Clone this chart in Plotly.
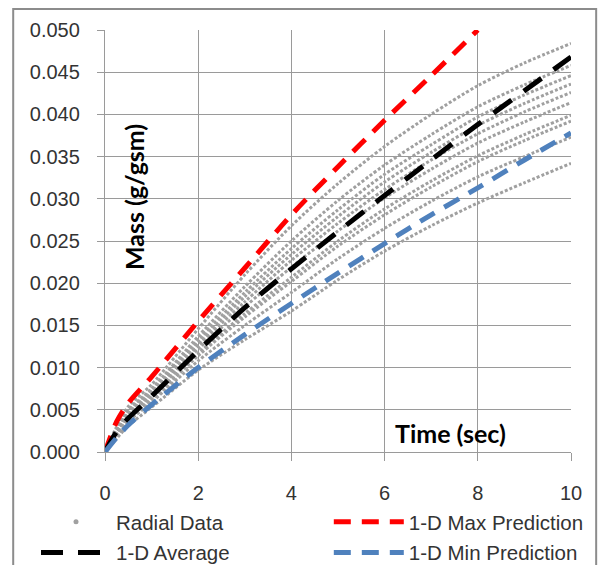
import plotly.graph_objects as go

# ---- data ----
time = [0, 0.25, 0.5, 1, 2, 3, 4, 5, 6, 7, 8, 9, 10]

radial_01 = [0, 0.0030, 0.0054, 0.0080, 0.0146, 0.0210, 0.0268, 0.0318, 0.0362, 0.0400, 0.0434, 0.0461, 0.0484]
radial_02 = [0, 0.0028, 0.0050, 0.0075, 0.0137, 0.0196, 0.0250, 0.0298, 0.0340, 0.0376, 0.0409, 0.0435, 0.0458]
radial_03 = [0, 0.0026, 0.0048, 0.0073, 0.0133, 0.0189, 0.0241, 0.0287, 0.0329, 0.0364, 0.0397, 0.0423, 0.0446]
radial_04 = [0, 0.0025, 0.0046, 0.0071, 0.0129, 0.0184, 0.0234, 0.0279, 0.0320, 0.0355, 0.0387, 0.0413, 0.0436]
radial_05 = [0, 0.0024, 0.0045, 0.0069, 0.0126, 0.0178, 0.0227, 0.0271, 0.0311, 0.0346, 0.0377, 0.0403, 0.0426]
radial_06 = [0, 0.0023, 0.0043, 0.0067, 0.0122, 0.0172, 0.0219, 0.0262, 0.0301, 0.0335, 0.0366, 0.0391, 0.0414]
radial_07 = [0, 0.0022, 0.0040, 0.0064, 0.0117, 0.0164, 0.0207, 0.0250, 0.0288, 0.0321, 0.0351, 0.0376, 0.0399]
radial_08 = [0, 0.0021, 0.0039, 0.0062, 0.0114, 0.0160, 0.0202, 0.0244, 0.0281, 0.0314, 0.0344, 0.0369, 0.0392]
radial_09 = [0, 0.0019, 0.0036, 0.0059, 0.0108, 0.0150, 0.0189, 0.0229, 0.0265, 0.0297, 0.0326, 0.0350, 0.0373]
radial_10 = [0, 0.0016, 0.0031, 0.0053, 0.0097, 0.0133, 0.0167, 0.0204, 0.0238, 0.0268, 0.0295, 0.0319, 0.0342]
radial_runs = [radial_01, radial_02, radial_03, radial_04, radial_05,
               radial_06, radial_07, radial_08, radial_09, radial_10]

avg_1d = [0, 0.0024, 0.0040, 0.0066, 0.0120, 0.0171, 0.0217, 0.0261, 0.0304, 0.0346, 0.0388, 0.0428, 0.0468]
max_pred = [0, 0.0036, 0.0058, 0.0089, 0.0155, 0.0218, 0.0281, 0.0338, 0.0393, 0.0446, 0.0500, None, None]
min_pred = [0, 0.0017, 0.0032, 0.0056, 0.0100, 0.0139, 0.0176, 0.0212, 0.0247, 0.0281, 0.0313, 0.0346, 0.0378]

x_ticks = [0, 2, 4, 6, 8, 10]
y_ticks = [0.000, 0.005, 0.010, 0.015, 0.020, 0.025, 0.030, 0.035, 0.040, 0.045, 0.050]

GRAY = "#a0a0a0"
RED = "#ff0000"
BLUE = "#4f81bd"
GRID = "#9a9a9a"
TXT = "#333333"

fig = go.Figure()

for run in radial_runs:
    fig.add_trace(go.Scatter(
        x=time, y=run, mode="lines", showlegend=False, hoverinfo="skip",
        line=dict(color=GRAY, width=3, dash="3px,2px", shape="spline", smoothing=0.8),
    ))

# legend-only entry for the radial dots
fig.add_trace(go.Scatter(
    x=[None], y=[None], mode="markers", name="Radial Data",
    legend="legend", legendgroup="g1",
    marker=dict(color=GRAY, size=5),
))

fig.add_trace(go.Scatter(
    x=time, y=max_pred, mode="lines", name="1-D Max Prediction",
    legend="legend2", legendgroup="g3",
    line=dict(color=RED, width=5, dash="17px,11px", shape="spline", smoothing=0.8),
))
fig.add_trace(go.Scatter(
    x=time, y=avg_1d, mode="lines", name="1-D Average",
    legend="legend", legendgroup="g2",
    line=dict(color="black", width=5, dash="22px,15px", shape="spline", smoothing=0.8),
))
fig.add_trace(go.Scatter(
    x=time, y=min_pred, mode="lines", name="1-D Min Prediction",
    legend="legend2", legendgroup="g4",
    line=dict(color=BLUE, width=5, dash="17px,11px", shape="spline", smoothing=0.8),
))

legend_common = dict(
    orientation="v", xref="container", yref="container",
    xanchor="left", yanchor="top", y=0.1115,
    itemwidth=70, font=dict(size=20.5, color=TXT), bgcolor="rgba(0,0,0,0)",
    traceorder="grouped", tracegroupgap=1,
)

fig.update_layout(
    width=600, height=565,
    margin=dict(l=105, r=29, t=30, b=113, autoexpand=False),
    paper_bgcolor="white", plot_bgcolor="white",
    font=dict(family="Liberation Sans, Arial, sans-serif", size=20, color=TXT),
    legend=dict(x=0.06, **legend_common),
    legend2=dict(x=0.548, **legend_common),
    xaxis=dict(
        range=[0, 10], tickvals=x_ticks, ticktext=[str(v) for v in x_ticks],
        showgrid=True, gridcolor=GRID, gridwidth=1.3,
        showline=True, linecolor=GRID, linewidth=1.3, zeroline=False,
        ticks="outside", ticklen=8, tickcolor=GRID, tickwidth=1.3,
        ticklabelstandoff=15, tickfont=dict(size=20, color=TXT),
    ),
    yaxis=dict(
        range=[0, 0.05], tickvals=y_ticks, ticktext=[f"{v:.3f}" for v in y_ticks],
        showgrid=True, gridcolor=GRID, gridwidth=1.3,
        showline=True, linecolor=GRID, linewidth=1.3, zeroline=False,
        ticks="outside", ticklen=7, tickcolor=GRID, tickwidth=1.3,
        ticklabelstandoff=13, tickfont=dict(size=20, color=TXT),
    ),
    shapes=[dict(
        type="rect", xref="paper", yref="paper", layer="below",
        x0=-0.197, x1=1.054, y0=-0.32, y1=1.0498,
        line=dict(color="#8c8c8c", width=2), fillcolor="rgba(0,0,0,0)",
    )],
    annotations=[
        dict(text="<b>Mass (g/gsm)</b>", x=0.62, y=0.0302, xref="x", yref="y",
             textangle=-90, showarrow=False,
             font=dict(family="Lato, sans-serif", size=25, color="black")),
        dict(text="<b>Time (sec)</b>", x=7.42, y=0.00225, xref="x", yref="y",
             showarrow=False,
             font=dict(family="Lato, sans-serif", size=25, color="black")),
    ],
)

fig.write_html("out.html", config={"displayModeBar": False},
               post_script="document.body.style.margin='0px';")
